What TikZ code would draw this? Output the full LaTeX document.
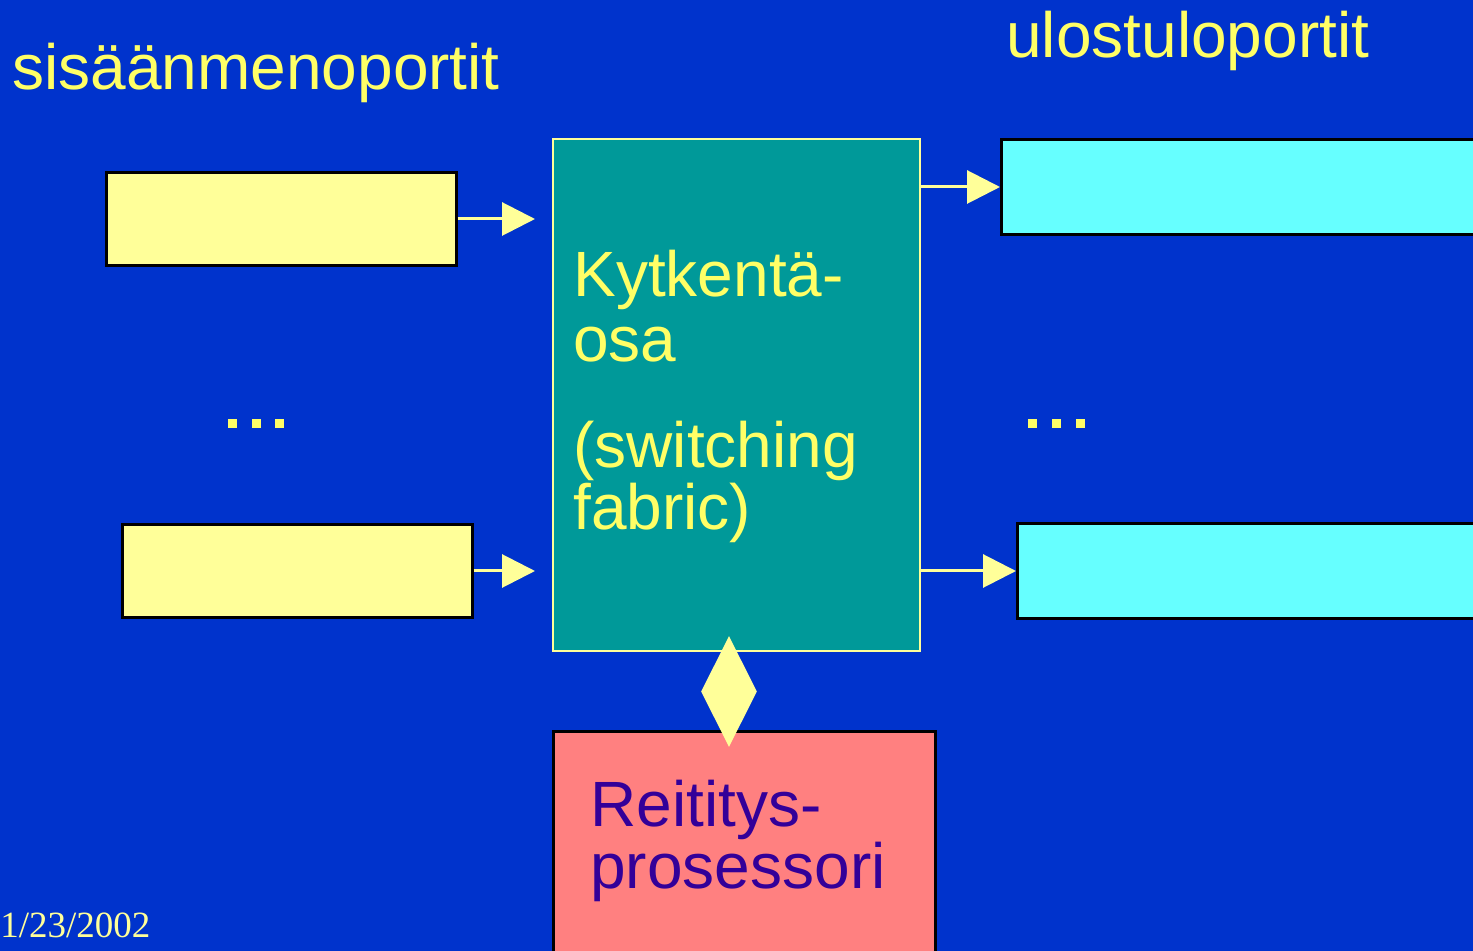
\documentclass[tikz,border=0pt]{standalone}
\usepackage{fontspec}
\setmainfont{Liberation Sans}
\newfontfamily\serifdate{Liberation Serif}
\usetikzlibrary{arrows.meta,shapes.geometric}
\definecolor{bgblue}{RGB}{0,51,204}
\definecolor{lightyel}{RGB}{255,255,153}
\definecolor{txtyel}{RGB}{255,255,102}
\definecolor{tealc}{RGB}{0,153,153}
\definecolor{cyanc}{RGB}{102,255,255}
\definecolor{pinkc}{RGB}{255,128,128}
\definecolor{purp}{RGB}{51,0,153}
\tikzset{
  inbox/.style={draw=black,line width=1.5pt,fill=lightyel,minimum width=175pt,minimum height=46.5pt,inner sep=0pt},
  outbox/.style={draw=black,line width=1.5pt,fill=cyanc,minimum width=244pt,minimum height=47.5pt,inner sep=0pt},
  conn/.style={draw=lightyel,line width=1.5pt,-{Triangle[length=16.5pt,width=16.5pt]}},
  bigtxt/.style={font=\fontsize{32}{38}\selectfont,text=txtyel,anchor=base west,inner sep=0pt},
  dotsq/.style={fill=txtyel,minimum size=4.5pt,inner sep=0pt}
}
\begin{document}
\begin{tikzpicture}[x=0.5pt,y=-0.5pt]
\useasboundingbox (0,0) rectangle (1473,951);
\clip (0,0) rectangle (1473,951);
\fill[bgblue] (0,0) rectangle (1473,951);
% titles
\node[bigtxt] (tin) at (12,90) {sisäänmenoportit};
\node[bigtxt] (tout) at (1006,58) {ulostuloportit};
% boxes
\node[inbox] (in1) at (281,219) {};
\node[inbox] (in2) at (297,571) {};
\node[draw=lightyel,line width=1pt,fill=tealc,minimum width=183.5pt,minimum height=256pt,inner sep=0pt] (sw) at (736.5,395) {};
\node[outbox] (out1) at (1245.5,187) {};
\node[outbox] (out2) at (1261.5,571) {};
\node[draw=black,line width=1.5pt,fill=pinkc,minimum width=191pt,minimum height=140pt,inner sep=0pt] (proc) at (744.5,871.5) {};
% switching text
\node[bigtxt] (k1) at (573,297) {Kytkentä-};
\node[bigtxt] (k2) at (573,362) {osa};
\node[bigtxt] (k3) at (573,468) {(switching};
\node[bigtxt] (k4) at (573,530) {fabric)};
% processor text
\node[bigtxt,text=purp] (r1) at (590,826) {Reititys-};
\node[bigtxt,text=purp] (r2) at (590,888) {prosessori};
% connectors
\draw[conn,shorten >=8.5pt] (in1.east) -- (in1.east -| sw.west);
\draw[conn,shorten >=8.5pt] (in2.east) -- (in2.east -| sw.west);
\draw[conn] (sw.east |- out1.west) -- (out1.west);
\draw[conn] (sw.east |- out2.west) -- (out2.west);
% diamond link
\node[diamond,fill=lightyel,inner sep=0pt,minimum width=28pt,minimum height=55.5pt] (dia) at (729,691.5) {};
% dots
\node[dotsq] (dl1) at (232.5,423.5) {};
\node[dotsq] (dl2) at (256.5,423.5) {};
\node[dotsq] (dl3) at (279.5,423.5) {};
\node[dotsq] (dr1) at (1032.5,423.5) {};
\node[dotsq] (dr2) at (1056.5,423.5) {};
\node[dotsq] (dr3) at (1080.5,423.5) {};
% date
\node[anchor=base west,inner sep=0pt,text=lightyel,font=\serifdate\fontsize{18.5}{20}\selectfont] (date) at (0,937) {1/23/2002};
\end{tikzpicture}
\end{document}
